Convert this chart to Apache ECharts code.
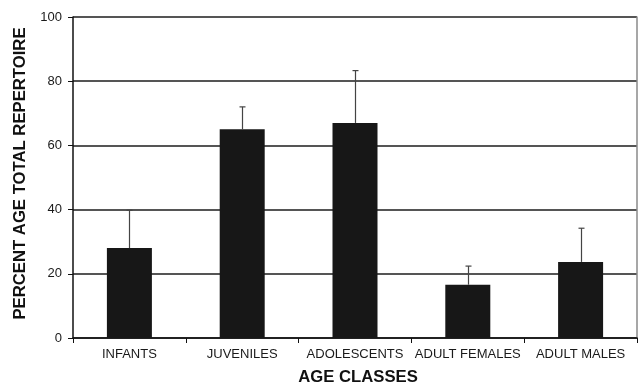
<!DOCTYPE html>
<html>
<head>
<meta charset="utf-8">
<script src="https://cdn.jsdelivr.net/npm/echarts@6/dist/echarts.min.js"></script>
<style>
  html, body { margin: 0; padding: 0; background: #fff; }
  #chart { width: 640px; height: 391px; }
</style>
</head>
<body>
<div id="chart"></div>
<script>
// Age classes along the x axis
const categories = ['INFANTS', 'JUVENILES', 'ADOLESCENTS', 'ADULT FEMALES', 'ADULT MALES'];
// Mean percentage of total repertoire per age class
const meanValues = [28, 65, 67, 16.6, 23.7];
// Upper end of each error bar (mean + error)
const errorUpper = [39.8, 72, 83.3, 22.4, 34.2];
// Y axis tick values
const yTicks = [0, 20, 40, 60, 80, 100];

const FONT = 'Liberation Sans, Arial, sans-serif';

const chart = echarts.init(document.getElementById('chart'), null, { renderer: 'canvas' });

chart.setOption({
  animation: false,
  backgroundColor: '#ffffff',
  grid: { left: 73, right: 3, top: 17, bottom: 49, containLabel: false },
  xAxis: {
    type: 'category',
    data: categories,
    boundaryGap: true,
    name: 'AGE CLASSES',
    nameLocation: 'middle',
    nameGap: 31,
    nameTextStyle: { fontFamily: FONT, fontSize: 16.7, fontWeight: 'bold', color: '#111', padding: [0, 0, 0, 6] },
    axisLine: { lineStyle: { color: '#111', width: 1.5 } },
    axisTick: { show: true, length: 5, lineStyle: { color: '#111', width: 1 } },
    axisLabel: { fontFamily: FONT, fontSize: 13, color: '#1a1a1a', margin: 10, interval: 0 },
    splitLine: { show: false }
  },
  yAxis: [
    {
      type: 'value',
      min: yTicks[0],
      max: yTicks[yTicks.length - 1],
      interval: 20,
      name: 'PERCENT AGE TOTAL REPERTOIRE',
      nameLocation: 'middle',
      nameGap: 44,
      nameTextStyle: { fontFamily: FONT, fontSize: 16.7, fontWeight: 'bold', color: '#111', padding: [0, 0, 0, 8] },
      axisLine: { show: true, lineStyle: { color: '#111', width: 1.5 } },
      axisTick: { show: true, length: 5, lineStyle: { color: '#111', width: 1 } },
      axisLabel: { fontFamily: FONT, fontSize: 13, color: '#1a1a1a', margin: 11 },
      splitLine: { show: true, lineStyle: { color: '#1c1c1c', width: 1.5 } }
    },
    {
      type: 'value',
      position: 'right',
      min: 0,
      max: 100,
      axisLine: { show: true, lineStyle: { color: '#8a8a8a', width: 1.5 } },
      axisTick: { show: false },
      axisLabel: { show: false },
      splitLine: { show: false }
    }
  ],
  series: [
    {
      type: 'bar',
      data: meanValues,
      barWidth: 45,
      itemStyle: { color: '#171717' },
      z: 2
    },
    {
      type: 'custom',
      data: meanValues.map((v, i) => [i, v, errorUpper[i]]),
      z: 3,
      renderItem: function (params, api) {
        const base = api.coord([api.value(0), api.value(1)]);
        const top = api.coord([api.value(0), api.value(2)]);
        const x = Math.round(base[0]) + 0.5;
        const half = 3;
        const style = { stroke: '#444', lineWidth: 1.2 };
        return {
          type: 'group',
          children: [
            { type: 'line', shape: { x1: x, y1: base[1], x2: x, y2: top[1] }, style: style },
            { type: 'line', shape: { x1: x - half, y1: top[1], x2: x + half, y2: top[1] }, style: style }
          ]
        };
      }
    }
  ]
});
</script>
</body>
</html>
